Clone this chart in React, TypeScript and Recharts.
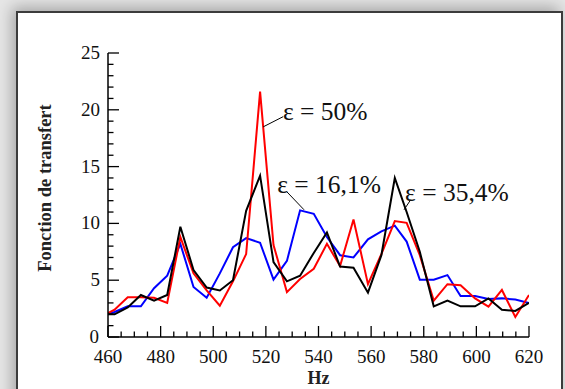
import { LineChart, Line, XAxis, YAxis, ReferenceLine, ReferenceDot } from 'recharts';

// frequencies (Hz) shared by the three curves
const hz = [460, 462.5, 467.5, 472.5, 477.5, 482.5, 487.5, 492.5, 497.5, 502.5, 507.5, 512.5, 517.8, 522.9, 528, 533, 538.2, 543.2, 548.2, 553.3, 558.8, 563.9, 569, 573.5, 578.5, 583.8, 589, 594, 599.5, 604.6, 609.7, 614.8, 620];

// ε = 50% (red)
const eps50 = [2.1, 2.4, 3.5, 3.5, 3.45, 3.0, 8.8, 5.6, 4.1, 2.75, 4.9, 7.3, 21.6, 8.1, 3.95, 5.1, 6.0, 8.2, 6.25, 10.35, 4.65, 7.3, 10.2, 10.05, 7.2, 3.2, 4.65, 4.55, 3.4, 2.67, 4.14, 1.76, 3.7];
// ε = 16,1% (blue)
const eps161 = [2.0, 2.2, 2.7, 2.7, 4.3, 5.4, 8.2, 4.4, 3.45, 5.6, 7.9, 8.7, 8.3, 5.05, 6.7, 11.15, 10.85, 8.8, 7.2, 7.0, 8.6, 9.3, 9.8, 8.4, 5.05, 5.05, 5.45, 3.6, 3.6, 3.35, 3.4, 3.3, 3.0];
// ε = 35,4% (black)
const eps354 = [2.0, 2.0, 2.6, 3.7, 3.2, 3.7, 9.7, 5.9, 4.35, 4.1, 5.0, 11.1, 14.2, 6.6, 4.9, 5.4, 7.4, 9.2, 6.2, 6.1, 3.9, 7.2, 14.0, 11.0, 7.5, 2.7, 3.2, 2.7, 2.7, 3.4, 2.4, 2.3, 3.0];

const xMajor = [460, 480, 500, 520, 540, 560, 580, 600, 620];
const yMajor = [0, 5, 10, 15, 20, 25];
const xTicks = Array.from({ length: 33 }, (_, i) => 460 + i * 5);
const yTicks = Array.from({ length: 26 }, (_, i) => i);

// callouts: label text, anchor of text, leader line ends
const notes = [
  { text: 'ε = 50%', at: [526.5, 19.1], from: [519.0, 18.5], to: [526.6, 19.4] },
  { text: 'ε = 16,1%', at: [524.3, 12.7], from: [534.5, 11.2], to: [527.9, 12.8] },
  { text: 'ε = 35,4%', at: [572.9, 11.95], from: [572.5, 11.2], to: [575.1, 12.1] },
];

const data = hz.map((f, i) => ({ hz: f, e50: eps50[i], e161: eps161[i], e354: eps354[i] }));

const FONT = '"Liberation Serif", "Times New Roman", serif';
const MAJ = 11;
const MIN = 5.5;

const BottomTick = (p: any) => {
  const v = p.payload.value;
  const major = xMajor.includes(v);
  return (
    <g>
      <line x1={p.x} x2={p.x} y1={p.y} y2={p.y - (major ? MAJ : MIN)} stroke="#000" strokeWidth={1.3} />
      {major && (
        <text x={p.x} y={p.y + 26} textAnchor="middle" fontFamily={FONT} fontSize={19} fill="#111">
          {v}
        </text>
      )}
    </g>
  );
};

const TopTick = (p: any) => {
  const major = xMajor.includes(p.payload.value);
  return <line x1={p.x} x2={p.x} y1={p.y} y2={p.y + (major ? MAJ : MIN)} stroke="#000" strokeWidth={1.3} />;
};

const LeftTick = (p: any) => {
  const v = p.payload.value;
  const major = yMajor.includes(v);
  return (
    <g>
      <line x1={p.x} x2={p.x + (major ? MAJ : MIN)} y1={p.y} y2={p.y} stroke="#000" strokeWidth={1.3} />
      {major && (
        <text x={p.x - (v === 0 ? 9 : 8)} y={p.y + 6} textAnchor="end" fontFamily={FONT} fontSize={19} fill="#111">
          {v}
        </text>
      )}
    </g>
  );
};

const RightTick = (p: any) => {
  const major = yMajor.includes(p.payload.value);
  return <line x1={p.x} x2={p.x - (major ? MAJ : MIN)} y1={p.y} y2={p.y} stroke="#000" strokeWidth={1.3} />;
};

export default function App() {
  return (
    <div style={{ position: 'fixed', left: 0, top: 0, width: 565, height: 389, overflow: 'hidden', background: '#e6e6e6' }}>
      <div
        style={{
          position: 'absolute',
          left: 16,
          top: 11,
          width: 547,
          height: 420,
          boxSizing: 'border-box',
          background: '#fff',
          border: '2px solid #3c3c3c',
          boxShadow: '-4px -4px 14px rgba(0,0,0,0.28)',
        }}
      />
      <div style={{ position: 'absolute', left: 0, top: 0 }}>
        <LineChart width={565} height={389} data={data} margin={{ top: 53, right: 36, bottom: 22, left: 58 }}>
          <XAxis
            dataKey="hz"
            type="number"
            domain={[460, 620]}
            ticks={xTicks}
            interval={0}
            allowDataOverflow
            height={30}
            tickSize={0}
            tickMargin={0}
            tick={<BottomTick />}
            axisLine={{ stroke: '#000', strokeWidth: 1.5 }}
            label={{
              content: (p: any) => {
                const vb = p.viewBox;
                return (
                  <text x={vb.x + vb.width / 2} y={vb.y + 47} textAnchor="middle" fontFamily={FONT} fontSize={18} fontWeight="bold" fill="#222">
                    Hz
                  </text>
                );
              },
            }}
          />
          <XAxis
            xAxisId="top"
            orientation="top"
            dataKey="hz"
            type="number"
            domain={[460, 620]}
            ticks={xTicks}
            interval={0}
            allowDataOverflow
            height={0}
            tickSize={0}
            tickMargin={0}
            tick={<TopTick />}
            axisLine={{ stroke: '#000', strokeWidth: 1.5 }}
          />
          <YAxis
            type="number"
            domain={[0, 25]}
            ticks={yTicks}
            interval={0}
            allowDataOverflow
            width={50}
            tickSize={0}
            tickMargin={0}
            tick={<LeftTick />}
            axisLine={{ stroke: '#000', strokeWidth: 1.5 }}
            label={{
              content: (p: any) => {
                const vb = p.viewBox;
                const cx = vb.x - 13;
                const cy = vb.y + vb.height / 2 - 7;
                return (
                  <text
                    x={cx}
                    y={cy}
                    transform={`rotate(-90 ${cx} ${cy})`}
                    textAnchor="middle"
                    dominantBaseline="central"
                    fontFamily={FONT}
                    fontSize={18.5}
                    fontWeight="bold"
                    fill="#222"
                  >
                    Fonction de transfert
                  </text>
                );
              },
            }}
          />
          <YAxis
            yAxisId="right"
            orientation="right"
            type="number"
            domain={[0, 25]}
            ticks={yTicks}
            interval={0}
            allowDataOverflow
            width={0}
            tickSize={0}
            tickMargin={0}
            tick={<RightTick />}
            axisLine={{ stroke: '#000', strokeWidth: 1.5 }}
          />
          <Line type="linear" dataKey="e161" stroke="#0000ff" strokeWidth={2} dot={false} isAnimationActive={false} />
          <Line type="linear" dataKey="e50" stroke="#ff0000" strokeWidth={2} dot={false} isAnimationActive={false} />
          <Line type="linear" dataKey="e354" stroke="#000000" strokeWidth={2} dot={false} isAnimationActive={false} />
          {notes.map((n) => (
            <ReferenceLine
              key={'l' + n.text}
              segment={[
                { x: n.from[0], y: n.from[1] },
                { x: n.to[0], y: n.to[1] },
              ]}
              stroke="#000"
              strokeWidth={1}
            />
          ))}
          {notes.map((n) => (
            <ReferenceDot
              key={'t' + n.text}
              x={n.at[0]}
              y={n.at[1]}
              r={0}
              shape={(p: any) => (
                <text x={p.cx} y={p.cy} fontFamily={FONT} fontSize={25.5} fill="#111">
                  {n.text}
                </text>
              )}
            />
          ))}
        </LineChart>
      </div>
    </div>
  );
}
